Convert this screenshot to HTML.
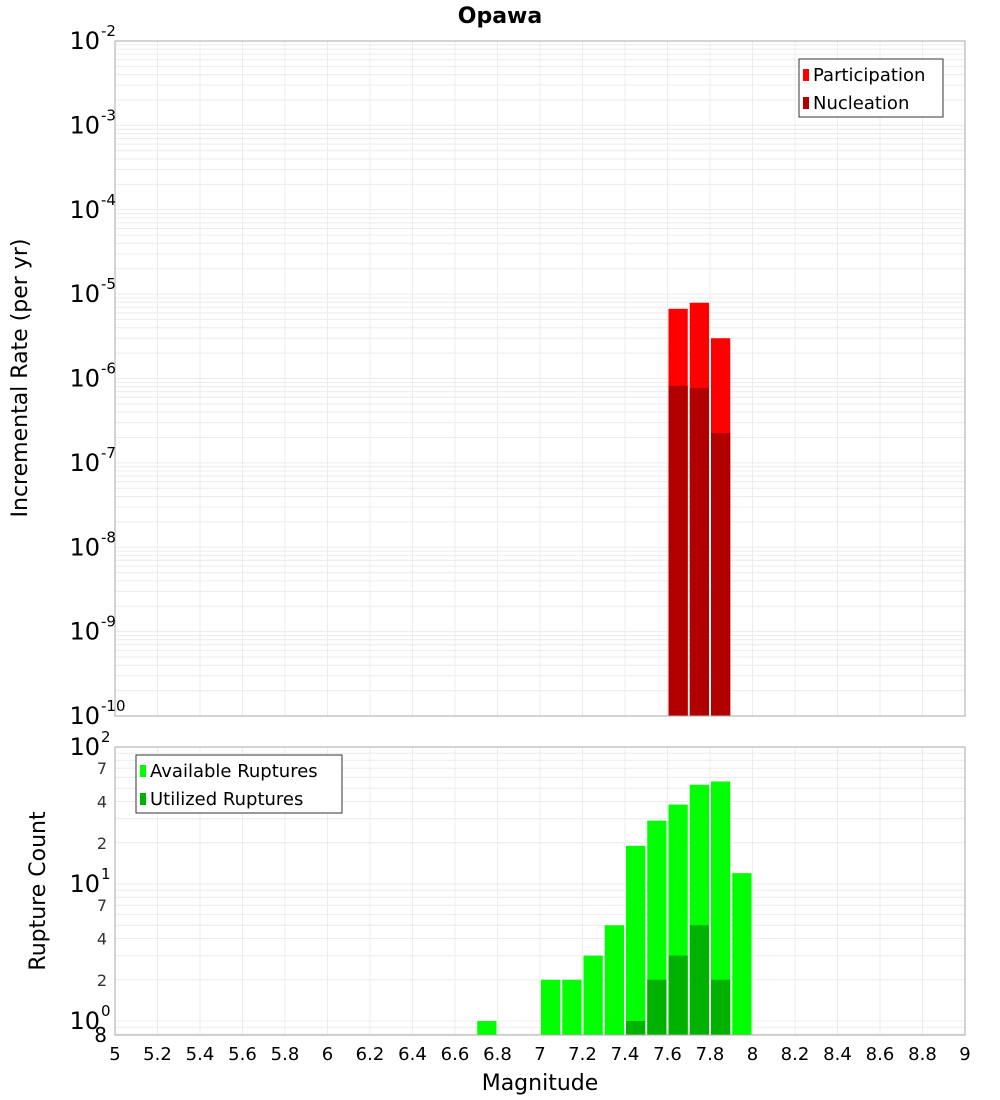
<!DOCTYPE html>
<html><head><meta charset="utf-8"><style>
body{margin:0;background:#fff;}
svg{display:block;font-family:"DejaVu Sans","Liberation Sans",sans-serif;}
</style></head><body>
<svg id="chart" width="1000" height="1100" xmlns="http://www.w3.org/2000/svg">
<text x="500" y="23" text-anchor="middle" font-size="22" font-weight="bold">Opawa</text>
<g id="topPlot"></g>
<g id="botPlot"></g>
<text transform="translate(27,378) rotate(-90)" text-anchor="middle" font-size="22">Incremental Rate (per yr)</text>
<text transform="translate(45,891) rotate(-90)" text-anchor="middle" font-size="22">Rupture Count</text>
<text x="540" y="1090" text-anchor="middle" font-size="22">Magnitude</text>
</svg>
<script>
const rateBins = [7.6, 7.7, 7.8];
const participation = [6.7e-6, 7.9e-6, 3.0e-6];
const nucleation = [8.2e-7, 7.7e-7, 2.26e-7];
const countBins = [6.7, 7.0, 7.1, 7.2, 7.3, 7.4, 7.5, 7.6, 7.7, 7.8, 7.9];
const available = [1, 2, 2, 3, 5, 19, 29, 38, 53, 56, 12];
const utilized = [0, 0, 0, 0, 0, 1, 2, 3, 5, 2, 0];
const xTicks = ["5","5.2","5.4","5.6","5.8","6","6.2","6.4","6.6","6.8","7","7.2","7.4","7.6","7.8","8","8.2","8.4","8.6","8.8","9"];
const rateExps = [-2,-3,-4,-5,-6,-7,-8,-9,-10];
const countExps = [2,1,0];
const countMinor = [7,4,2];

const NS="http://www.w3.org/2000/svg";
const L=115,R=965;
const X=m=>L+(m-5)*(R-L)/4;
const T0=41,T1=716;
const yT=v=>T0+(-2-Math.log10(v))*(T1-T0)/8;
const B0=747,B1=1035;
const dec=137;
const yB=v=>B0+(2-Math.log10(v))*dec;
function el(p,tag,attrs){const e=document.createElementNS(NS,tag);for(const k in attrs)e.setAttribute(k,attrs[k]);p.appendChild(e);return e;}
const gTop=document.getElementById('topPlot'), gBot=document.getElementById('botPlot');

function frame(g,y0,y1,logMin,logMax,yf){
  for(let e=logMin;e<logMax;e++)for(let k=1;k<10;k++){const v=k*Math.pow(10,e);const y=yf(v);if(y<y0||y>y1)continue;
    const ln=el(g,'line',{x1:L,x2:R,y1:y,y2:y,stroke:'#ececec','stroke-width':1});
    
    }
  xTicks.forEach(t=>{const x=X(+t);
    const ln=el(g,'line',{x1:x,x2:x,y1:y0,y2:y1,stroke:'#ececec','stroke-width':1});
    
    });
}
frame(gTop,T0,T1,-10,-2,yT);
frame(gBot,B0,B1,-1,2,yB);

rateBins.forEach((m,i)=>{
  const x=X(m)+1,w=X(m+0.1)-X(m)-2;
  const p=el(gTop,'rect',{x:x,y:yT(participation[i]),width:w,height:T1-yT(participation[i]),fill:'#ff0000'});
  
  
  const n=el(gTop,'rect',{x:x,y:yT(nucleation[i]),width:w,height:T1-yT(nucleation[i]),fill:'#b20000'});
  
  
});
countBins.forEach((m,i)=>{
  const x=X(m)+1,w=X(m+0.1)-X(m)-2;
  const a=el(gBot,'rect',{x:x,y:yB(available[i]),width:w,height:B1-yB(available[i]),fill:'#00ff00'});
  
  
  if(utilized[i]>0){
    const u=el(gBot,'rect',{x:x,y:yB(utilized[i]),width:w,height:B1-yB(utilized[i]),fill:'#00b200'});
    
    }
});
[[gTop,T0,T1],[gBot,B0,B1]].forEach(([g,a,b])=>{
  const r=el(g,'rect',{x:L,y:a,width:R-L,height:b-a,fill:'none',stroke:'#aaa','stroke-width':1});
  
  
});
rateExps.forEach(e=>{
  const y=yT(Math.pow(10,e));
  const t=el(gTop,'text',{x:100,y:y+8,'text-anchor':'end','font-size':24});
  
  
  t.textContent='10';
  const s=el(gTop,'text',{x:101,y:y-5,'font-size':15});
  
  
  s.textContent=String(e);
});
countExps.forEach(e=>{
  const y=yB(Math.pow(10,e));
  const t=el(gBot,'text',{x:100,y:y+8,'text-anchor':'end','font-size':24});
  
  
  t.textContent='10';
  const s=el(gBot,'text',{x:101,y:y-5,'font-size':15});
  
  
  s.textContent=String(e);
  if(e<2)countMinor.forEach(k=>{
    const yy=yB(k*Math.pow(10,e));
    const m=el(gBot,'text',{x:107,y:yy+6,'text-anchor':'end','font-size':16,fill:'#333'});
    
    
    m.textContent=String(k);});
});
{const m=el(gBot,'text',{x:107,y:1042,'text-anchor':'end','font-size':20});


m.textContent='8';}
xTicks.forEach(t=>{
  const tx=el(gBot,'text',{x:X(+t),y:1060,'text-anchor':'middle','font-size':18});
  
  
  tx.textContent=t;
});
function legend(g,x,y,w,items){
  const r=el(g,'rect',{x:x,y:y,width:w,height:58,fill:'#fff',stroke:'#333','stroke-width':1});
  
  
  items.forEach((it,i)=>{
    const s=el(g,'rect',{x:x+4,y:y+10+i*28,width:6,height:12,fill:it[1]});
    
    
    const t=el(g,'text',{x:x+14,y:y+22+i*28,'font-size':18});
    
    
    t.textContent=it[0];
  });
}
legend(gTop,799,59,144,[['Participation','#ff0000'],['Nucleation','#b20000']]);
legend(gBot,136,755,206,[['Available Ruptures','#00ff00'],['Utilized Ruptures','#00b200']]);
</script>
</body></html>
